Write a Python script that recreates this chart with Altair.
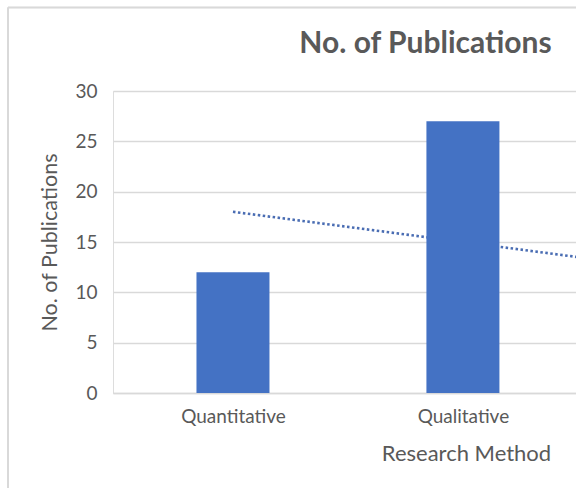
import altair as alt
import pandas as pd

# Publications by research method
methods = ["Quantitative", "Qualitative", "Mixed Methods"]
publications = [12, 27, 6]
positions = [1, 2, 3]
y_ticks = [0, 5, 10, 15, 20, 25, 30]

df = pd.DataFrame({"method": methods, "count": publications, "pos": positions})

FONT = "Lato"
TEXT = "#595959"
GRID = "#d9d9d9"
BAR = "#4472c4"

label_expr = " : ".join(
    f"datum.value == {p} ? '{m}'" for p, m in zip(positions, methods)
) + " : ''"

x_scale = alt.Scale(domain=[0.5, 2.47], nice=False, zero=False)
y_scale = alt.Scale(domain=[0, 30], nice=False)

x_axis = alt.Axis(
    values=positions[:2], labelExpr=label_expr, title="Research Method",
    grid=False, ticks=False, domainColor=GRID, domainWidth=1.5,
    labelFont=FONT, labelFontSize=19, labelColor=TEXT, labelPadding=14,
    titleFont=FONT, titleFontSize=22, titleFontWeight="normal", titleColor=TEXT,
    titleX=353, titleY=67, titleBaseline="alphabetic", titleAlign="center",
)
y_axis = alt.Axis(
    values=y_ticks, title="No. of Publications", grid=True, gridColor=GRID,
    gridWidth=1.3, domain=False, ticks=False,
    labelFont=FONT, labelFontSize=19, labelColor=TEXT, labelPadding=16,
    titleFont=FONT, titleFontSize=21.5, titleFontWeight="normal", titleColor=TEXT,
    titleX=-63, titleY=151, titleAngle=-90, titleBaseline="middle", titleAlign="center",
)

base = alt.Chart(df)

trend = base.transform_regression("pos", "count", method="linear").mark_line(
    color="#4a6db3", strokeWidth=2.6, strokeDash=[2.5, 2.5], clip=True
).encode(
    x=alt.X("pos:Q", scale=x_scale, axis=x_axis),
    y=alt.Y("count:Q", scale=y_scale, axis=y_axis),
)

bars = base.mark_bar(color=BAR, size=73, clip=True).encode(
    x=alt.X("pos:Q", scale=x_scale),
    y=alt.Y("count:Q", scale=y_scale),
)

# chart-area frame (left and top edges)
frame_left = alt.Chart(df).mark_rule(color=GRID, strokeWidth=1.5).encode(
    x=alt.value(-105), y=alt.value(-83.5), y2=alt.value(397)
)
frame_top = alt.Chart(df).mark_rule(color=GRID, strokeWidth=1.5).encode(
    x=alt.value(-105), x2=alt.value(463), y=alt.value(-83.5)
)

chart = alt.layer(frame_left, frame_top, trend, bars).properties(
    width=463, height=302,
    title=alt.Title(
        "No. of Publications", anchor="middle", frame="group", dx=81, dy=56,
        font=FONT, fontSize=30, fontWeight="bold", color=TEXT,
    ),
    autosize=alt.AutoSizeParams(type="none"),
    padding={"left": 113, "top": 91, "right": 0, "bottom": 95},
).configure_view(stroke=None).configure(background="white")

chart.save("out.html", embed_options={"renderer": "svg", "actions": False})
